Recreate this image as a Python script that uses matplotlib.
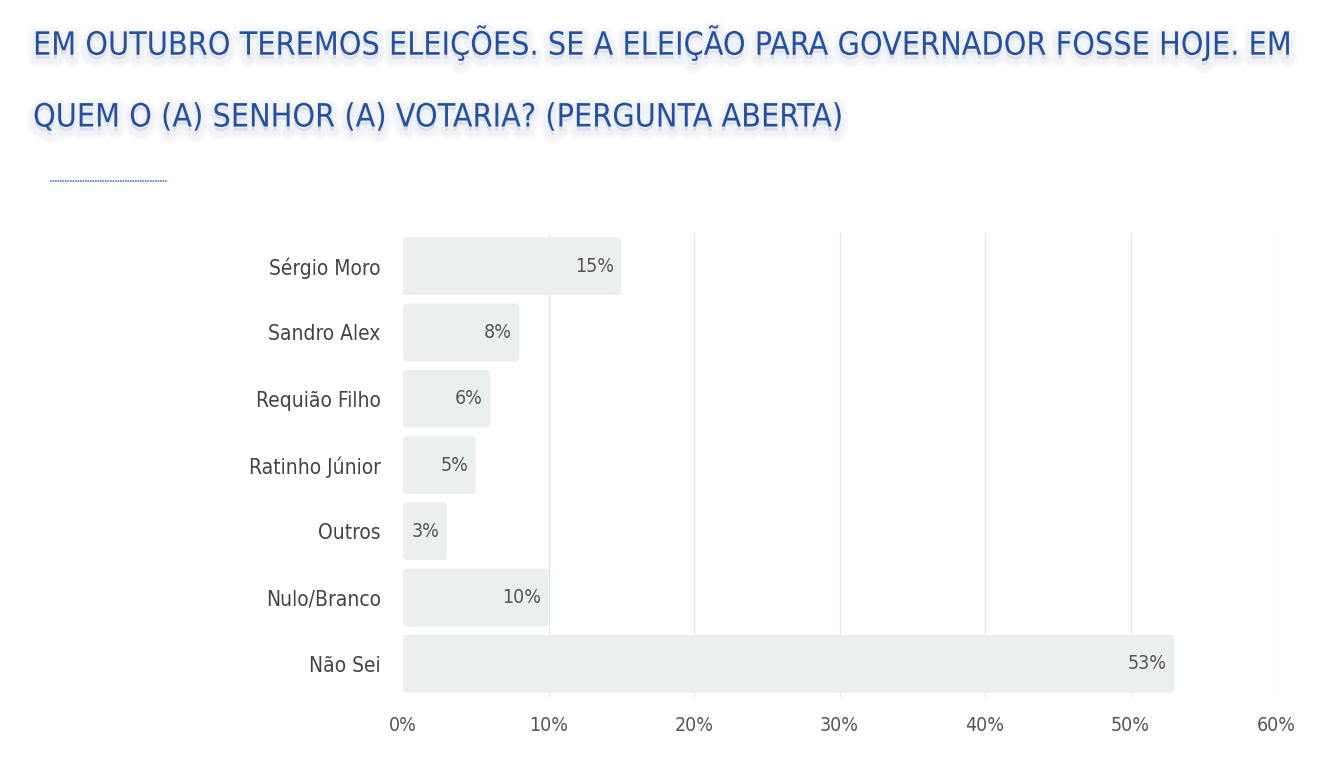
import matplotlib
matplotlib.use('Agg')
import matplotlib.pyplot as plt
import matplotlib.patheffects as pe
from matplotlib.patches import FancyBboxPatch

candidatos = ['Sérgio Moro', 'Sandro Alex', 'Requião Filho', 'Ratinho Júnior',
              'Outros', 'Nulo/Branco', 'Não Sei']
percentuais = [15, 8, 6, 5, 3, 10, 53]
ticks_x = [0, 10, 20, 30, 40, 50, 60]
titulo = ['EM OUTUBRO TEREMOS ELEIÇÕES. SE A ELEIÇÃO PARA GOVERNADOR FOSSE HOJE. EM',
          'QUEM O (A) SENHOR (A) VOTARIA? (PERGUNTA ABERTA)']

plt.rcParams['font.family'] = ['DejaVu Sans']
plt.rcParams['font.stretch'] = 'condensed'

fig = plt.figure(figsize=(13.2, 7.68), dpi=100)
ax = fig.add_axes([403 / 1320, 1 - 697 / 768, 873 / 1320, 464 / 768])

for i, v in enumerate(percentuais):
    ax.add_patch(FancyBboxPatch((0, i - 0.435), v, 0.87,
                                boxstyle='round,pad=0,rounding_size=0.25',
                                mutation_aspect=0.22,
                                fc='#ebeff0', ec='none', zorder=2))
    ax.text(v - 0.5, i, f'{v}%', ha='right', va='center',
            fontsize=14, color='#555555', zorder=3)

ax.set_xlim(0, 60)
ax.set_ylim(6.5, -0.5)
ax.set_xticks(ticks_x)
ax.set_xticklabels([f'{t}%' for t in ticks_x], fontsize=14, color='#555555')
ax.set_yticks(range(len(candidatos)))
ax.set_yticklabels(candidatos, fontsize=15, color='#444444')
ax.tick_params(length=0, pad=16, axis='y')
ax.tick_params(length=0, pad=14, axis='x')
for t in ticks_x[1:]:
    ax.axvline(t, color='#e8e8e8', lw=1, zorder=1)
for s in ax.spines.values():
    s.set_visible(False)

# sombra difusa do título
sombra = [pe.Stroke(linewidth=lw, foreground='#7d8aa8', alpha=0.035, offset=(0, -3))
          for lw in (12, 9, 6)] + [pe.Normal()]
t1 = fig.text(33 / 1320, 1 - 43 / 768, titulo[0], fontsize=30, color='#2550a0',
              va='center', ha='left', fontweight='light', path_effects=sombra)
t2 = fig.text(33 / 1320, 1 - 118 / 768, titulo[1], fontsize=30, color='#2550a0',
              va='center', ha='left', fontweight='light', path_effects=sombra)
# ajusta o tamanho do título para ocupar a largura da primeira linha
r = fig.canvas.get_renderer()
w = t1.get_window_extent(r).width
tam = 30 * (1290 - 33) / w
t1.set_fontsize(tam)
t2.set_fontsize(tam)

fig.add_artist(plt.Line2D([50 / 1320, 167 / 1320], [1 - 181 / 768] * 2,
                          color='#5a7cc0', lw=1.2, ls=(0, (1, 0.5))))

fig.savefig('out.png', dpi=100)
